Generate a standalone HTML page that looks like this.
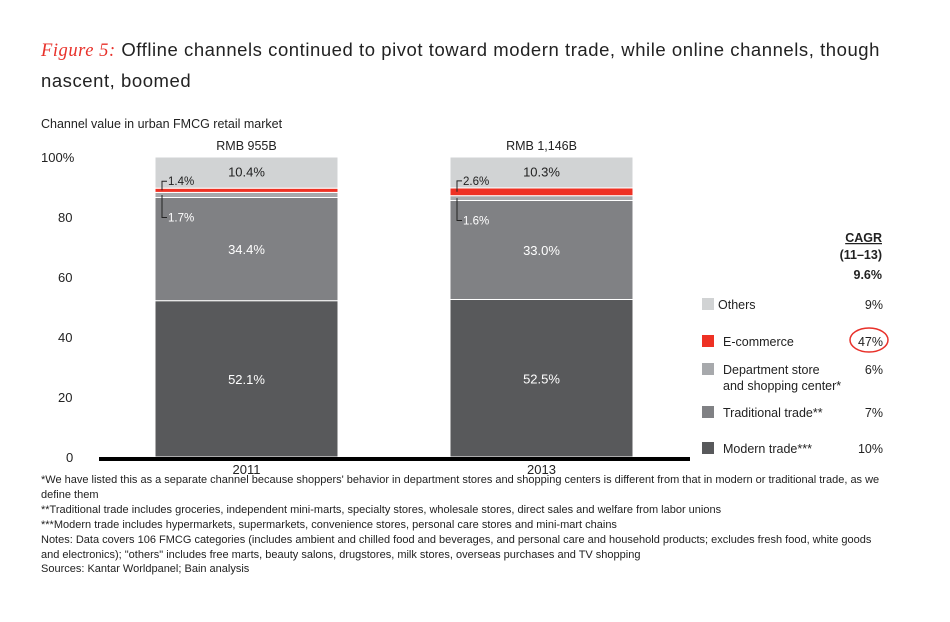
<!DOCTYPE html>
<html><head><meta charset="utf-8"><style>
body{margin:0;background:#fff;font-family:"Liberation Sans",sans-serif;}
#wrap{position:relative;width:950px;height:622px;overflow:hidden;}
.t{position:absolute;white-space:nowrap;color:#222;}
</style></head><body>
<div id="wrap">
<div class="t" style="left:41px;top:35px;font-size:18.5px;letter-spacing:0.55px;line-height:29px;width:870px;white-space:normal;"><span style="color:#e8312a;font-family:'Liberation Serif',serif;font-style:italic;">Figure 5:</span> Offline channels continued to pivot toward modern trade, while online channels, though nascent, boomed</div>
<div class="t" style="left:41px;top:117px;font-size:12.5px;">Channel value in urban FMCG retail market</div>
<svg id="chart" width="950" height="622" style="position:absolute;left:0;top:0"></svg>
<div class="t" style="left:41px;top:473px;font-size:11px;line-height:14.9px;width:850px;white-space:normal;">*We have listed this as a separate channel because shoppers' behavior in department stores and shopping centers is different from that in modern or traditional trade, as we define them<br>**Traditional trade includes groceries, independent mini-marts, specialty stores, wholesale stores, direct sales and welfare from labor unions<br>***Modern trade includes hypermarkets, supermarkets, convenience stores, personal care stores and mini-mart chains<br>Notes: Data covers 106 FMCG categories (includes ambient and chilled food and beverages, and personal care and household products; excludes fresh food, white goods and electronics); "others" includes free marts, beauty salons, drugstores, milk stores, overseas purchases and TV shopping<br>Sources: Kantar Worldpanel; Bain analysis</div>
</div>
<script>
const years=["2011","2013"];
const totals=["RMB 955B","RMB 1,146B"];
const seriesNames=["Modern trade***","Traditional trade**","Department store|and shopping center*","E-commerce","Others"];
const modern=[52.1,52.5];
const traditional=[34.4,33.0];
const dept=[1.7,1.6];
const ecom=[1.4,2.6];
const others=[10.4,10.3];
const cagr=["10%","7%","6%","47%","9%"];
const ticks=[0,20,40,60,80,100];
const colors=["#58595b","#808184","#a7a9ac","#ee3124","#d1d3d4"];
const NS="http://www.w3.org/2000/svg";
const svg=document.getElementById('chart');
const y0=457,y1=157;
const Y=v=>y0-(v/100)*(y0-y1);
const barX=[155,450],barW=183;
function mk(tag,a,txt){const e=document.createElementNS(NS,tag);for(const k in a)e.setAttribute(k,a[k]);if(txt!=null)e.textContent=txt;svg.appendChild(e);return e;}
ticks.forEach(t=>{const e=mk('text',{x:t===100?41:(t===0?66:58),y:Y(t)+5,'font-size':13,fill:'#222'},t===100?'100%':String(t));
});
const series=[modern,traditional,dept,ecom,others];
years.forEach((yr,i)=>{let cum=0;
series.forEach((s,k)=>{const v=s[i];const r=mk('rect',{x:barX[i],y:Y(cum+v),width:barW,height:Y(cum)-Y(cum+v),fill:colors[k],stroke:'#fff','stroke-width':1});

const mid=(Y(cum)+Y(cum+v))/2;
if(k===0||k===1||k===4){const t=mk('text',{x:barX[i]+barW/2,y:(k===4?mid-1:mid)+5,'text-anchor':'middle','font-size':13,fill:k===4?'#222':'#fff'},v.toFixed(1)+'%');
}
cum+=v;});
const base=modern[i]+traditional[i];
const ym=Y(base+dept[i]+ecom[i]/2), yd=Y(base+dept[i]/2);
const lx=barX[i]+7;
const l1=mk('path',{d:`M${lx+5},${Y(base+dept[i]+ecom[i])-7} H${lx} V${ym}`,stroke:'#222',fill:'none','stroke-width':1});

const t1=mk('text',{x:lx+6,y:Y(base+dept[i]+ecom[i])-3,'font-size':11.5,fill:'#222'},ecom[i].toFixed(1)+'%');

const l2=mk('path',{d:`M${lx},${yd} V${Y(base)+20} H${lx+5}`,stroke:'#222',fill:'none','stroke-width':1});

const t2=mk('text',{x:lx+6,y:Y(base)+24,'font-size':11.5,fill:'#fff'},dept[i].toFixed(1)+'%');

const tt=mk('text',{x:barX[i]+barW/2,y:150,'text-anchor':'middle','font-size':12.5,fill:'#222'},totals[i]);

const xl=mk('text',{x:barX[i]+barW/2,y:474,'text-anchor':'middle','font-size':13,fill:'#222'},yr);

});
const ax=mk('rect',{x:99,y:457,width:591,height:4,fill:'#000'});

// legend
const h1=mk('text',{x:882,y:242,'text-anchor':'end','font-size':12.5,'font-weight':'bold',fill:'#222','text-decoration':'underline'},'CAGR');

const h2=mk('text',{x:882,y:259,'text-anchor':'end','font-size':12.5,'font-weight':'bold',fill:'#222'},'(11–13)');

const h3=mk('text',{x:882,y:279,'text-anchor':'end','font-size':12.5,'font-weight':'bold',fill:'#222'},'9.6%');

const ly=[448,412,369,341,304];
for(let k=4;k>=0;k--){const y=ly[k];
const r=mk('rect',{x:702,y:y-6,width:12,height:12,fill:colors[k]});

const parts=seriesNames[k].split('|');
parts.forEach((p,j)=>{const t=mk('text',{x:k===4?718:723,y:y+5+j*16,'font-size':12.5,fill:'#222'},p);
});
const c=mk('text',{x:883,y:y+5,'text-anchor':'end','font-size':12.5,fill:'#222'},cagr[k]);
}
const circ=mk('ellipse',{cx:869,cy:340,rx:19,ry:12,fill:'none',stroke:'#e8312a','stroke-width':1.5});

</script>
</body></html>
